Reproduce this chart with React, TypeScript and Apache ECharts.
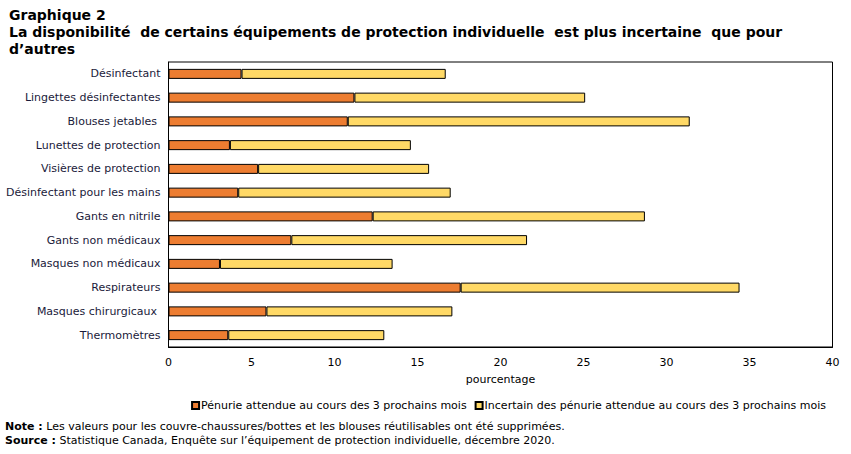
import React, { useEffect, useRef } from "react";
import * as echarts from "echarts";

const categories = [
  "Désinfectant",
  "Lingettes désinfectantes",
  "Blouses jetables ",
  "Lunettes de protection",
  "Visières de protection",
  "Désinfectant pour les mains",
  "Gants en nitrile",
  "Gants non médicaux",
  "Masques non médicaux",
  "Respirateurs",
  "Masques chirurgicaux ",
  "Thermomètres",
];
const shortage = [4.4, 11.2, 10.8, 3.7, 5.4, 4.2, 12.3, 7.4, 3.1, 17.6, 5.9, 3.6];
const uncertain = [12.3, 13.9, 20.6, 10.9, 10.3, 12.8, 16.4, 14.2, 10.4, 16.8, 11.2, 9.4];
const seriesNames = [
  "Pénurie attendue au cours des 3 prochains mois",
  "Incertain des pénurie attendue au cours des 3 prochains mois",
];
const xTicks = { min: 0, max: 40, interval: 5 };

const FONT = "DejaVu Sans";

export default function App() {
  const ref = useRef<HTMLDivElement>(null);
  useEffect(() => {
    if (!ref.current) return;
    const chart = echarts.init(ref.current, undefined, { renderer: "svg" });
    const cats = [...categories].reverse();
    const s1 = [...shortage].reverse();
    const s2 = [...uncertain].reverse();
    chart.setOption({
      animation: false,
      textStyle: { fontFamily: FONT },
      title: {
        text: "Graphique 2\nLa disponibilité  de certains équipements de protection individuelle  est plus incertaine  que pour\nd’autres",
        left: 4,
        top: 1,
        textStyle: {
          fontFamily: FONT,
          fontSize: 14,
          fontWeight: "bold",
          color: "#000",
          lineHeight: 17,
        },
      },
      grid: {
        left: 168.5,
        right: 18.5,
        top: 62,
        height: 285,
        show: true,
        borderColor: "#000",
        borderWidth: 1,
        containLabel: false,
      },
      xAxis: {
        type: "value",
        min: xTicks.min,
        max: xTicks.max,
        interval: xTicks.interval,
        name: "pourcentage",
        nameLocation: "middle",
        nameGap: 27,
        nameTextStyle: { fontFamily: FONT, fontSize: 11, color: "#000" },
        splitLine: { show: false },
        axisTick: { show: false },
        axisLine: { show: true, lineStyle: { color: "#000" } },
        axisLabel: { fontFamily: FONT, fontSize: 11, color: "#000", margin: 10 },
      },
      yAxis: {
        type: "category",
        data: cats,
        axisTick: { show: false },
        axisLine: { show: true, lineStyle: { color: "#000" } },
        axisLabel: { fontFamily: FONT, fontSize: 11, color: "#1a1a3a", margin: 8 },
      },
      legend: {
        right: 20,
        top: 395,
        icon: "rect",
        itemWidth: 7,
        itemHeight: 7,
        itemGap: 8,
        textStyle: { fontFamily: FONT, fontSize: 11, color: "#000", padding: [0, 0, 0, -3] },
        data: seriesNames,
      },
      series: [
        {
          name: seriesNames[0],
          type: "bar",
          stack: "a",
          data: s1,
          barWidth: 10,
          itemStyle: { color: "#ED7D31", borderColor: "#000", borderWidth: 1 },
        },
        {
          name: seriesNames[1],
          type: "bar",
          stack: "a",
          data: s2,
          barWidth: 10,
          itemStyle: { color: "#FFD966", borderColor: "#000", borderWidth: 1 },
        },
      ],
      graphic: [
        {
          type: "text",
          left: 5,
          top: 421,
          style: {
            text: "{b|Note :} Les valeurs pour les couvre-chaussures/bottes et les blouses réutilisables ont été supprimées.",
            fontFamily: FONT,
            fontSize: 11,
            fill: "#000",
            rich: { b: { fontWeight: "bold", fontFamily: FONT, fontSize: 11 } },
          },
        },
        {
          type: "text",
          left: 5,
          top: 435,
          style: {
            text: "{b|Source :} Statistique Canada, Enquête sur l’équipement de protection individuelle, décembre 2020.",
            fontFamily: FONT,
            fontSize: 11,
            fill: "#000",
            rich: { b: { fontWeight: "bold", fontFamily: FONT, fontSize: 11 } },
          },
        },
      ],
    });
    return () => chart.dispose();
  }, []);
  return <div ref={ref} style={{ width: 851, height: 454, position: "absolute", left: 0, top: 0 }} />;
}
